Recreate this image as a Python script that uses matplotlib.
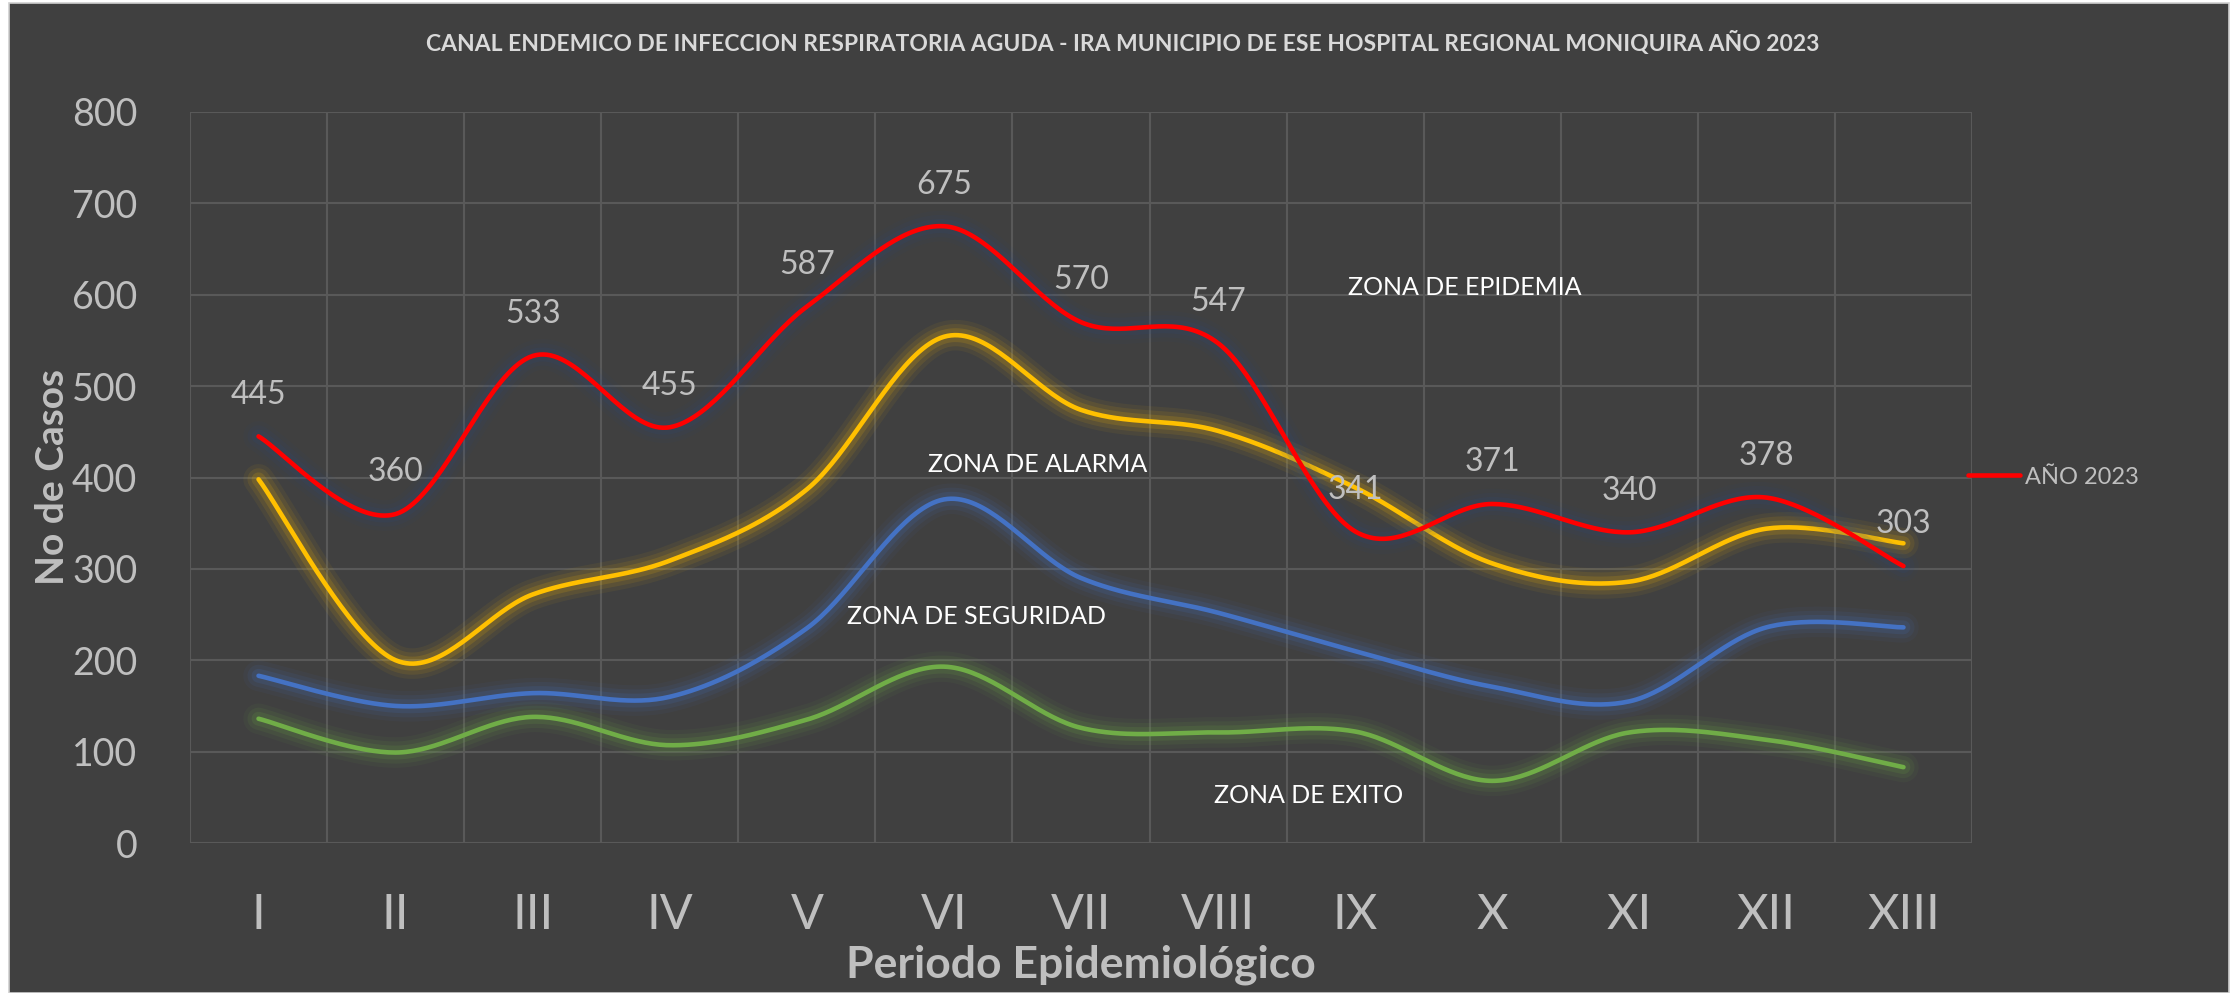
import numpy as np
import matplotlib
matplotlib.use("Agg")
import matplotlib.pyplot as plt
import matplotlib.patheffects as pe
from matplotlib.patches import Rectangle

# ---------------- data ----------------
periodos = ["I", "II", "III", "IV", "V", "VI", "VII", "VIII", "IX", "X", "XI", "XII", "XIII"]
exito = [136, 99, 138, 107, 135, 193, 126, 121, 122, 68, 121, 113, 83]
seguridad = [183, 150, 164, 160, 235, 376, 290, 252, 210, 171, 155, 236, 236]
alarma = [398, 200, 272, 309, 387, 554, 474, 451, 389, 306, 286, 344, 328]
anio_2023 = [445, 360, 533, 455, 587, 675, 570, 547, 341, 371, 340, 378, 303]

titulo = "CANAL ENDEMICO DE INFECCION RESPIRATORIA AGUDA - IRA MUNICIPIO DE ESE HOSPITAL REGIONAL MONIQUIRA AÑO 2023"
zonas = [("ZONA DE EPIDEMIA", 8.8, 608), ("ZONA DE ALARMA", 5.68, 414),
         ("ZONA DE SEGURIDAD", 5.24, 248), ("ZONA DE EXITO", 7.66, 52)]

FONT = ["Lato", "DejaVu Sans"]
BG = "#404040"
TXT = "#BFBFBF"


def smooth(xs, ys, n=40):
    """Excel-like smoothed line: Catmull-Rom cubic Bezier segments."""
    xs = np.asarray(xs, float)
    ys = np.asarray(ys, float)
    P = np.column_stack([xs, ys])
    Pp = np.vstack([P[0], P, P[-1]])
    out = []
    t = np.linspace(0, 1, n)[:, None]
    for i in range(len(P) - 1):
        p0, p1, p2, p3 = Pp[i], Pp[i + 1], Pp[i + 2], Pp[i + 3]
        c1 = p1 + (p2 - p0) / 6.0
        c2 = p2 - (p3 - p1) / 6.0
        seg = ((1 - t) ** 3) * p1 + 3 * ((1 - t) ** 2) * t * c1 + 3 * (1 - t) * t ** 2 * c2 + t ** 3 * p2
        out.append(seg if i == 0 else seg[1:])
    arr = np.vstack(out)
    return arr[:, 0], arr[:, 1]


W, H = 2234, 993
fig = plt.figure(figsize=(W / 100, H / 100), dpi=100, facecolor="white")
fig.patches.append(Rectangle((9 / W, 0), (2229 - 9) / W, (H - 3) / H, transform=fig.transFigure,
                             facecolor=BG, edgecolor="#CFCFCF", linewidth=1.2, zorder=-5))

ax = fig.add_axes([190 / W, 1 - 843 / H, (1972 - 190) / W, (843 - 112) / H], zorder=2)
ax.set_facecolor(BG)
for s in ax.spines.values():
    s.set_visible(False)

x = np.arange(len(periodos))
ax.set_xlim(-0.5, len(periodos) - 0.5)
ax.set_ylim(0, 800)
ax.set_yticks(np.arange(0, 801, 100))
ax.set_xticks(x)
ax.set_xticklabels(periodos)
ax.set_xticks(np.arange(-0.5, len(periodos)), minor=True)
ax.grid(False)
ax.grid(True, which="major", axis="y", color="#595959", linewidth=1.5)
ax.grid(True, which="minor", axis="x", color="#595959", linewidth=1.5)
ax.tick_params(axis="both", which="both", length=0)
ax.tick_params(axis="y", pad=38, labelsize=27, labelcolor=TXT)
ax.tick_params(axis="x", pad=36, labelsize=35, labelcolor=TXT)
for lab in ax.get_yticklabels():
    lab.set_family(FONT)
for lab in ax.get_xticklabels():
    lab.set_family(FONT)
    lab.set_fontweight("normal")
ax.set_axisbelow(True)

series = [
    (exito, "#70AD47", "#70AD47", None),
    (seguridad, "#4472C4", "#4472C4", None),
    (alarma, "#FFC000", "#FFC000", None),
    (anio_2023, "#FF0000", "#2B4A80", "AÑO 2023"),
]
for vals, col, glow, lab in series:
    sx, sy = smooth(x, vals)
    effects = [pe.Stroke(linewidth=22, foreground=glow, alpha=0.06),
               pe.Stroke(linewidth=16, foreground=glow, alpha=0.09),
               pe.Stroke(linewidth=10, foreground=glow, alpha=0.14),
               pe.Normal()]
    ax.plot(sx, sy, color=col, linewidth=3.3, solid_capstyle="round",
            path_effects=effects, label=lab, zorder=3)

for xi, v in zip(x, anio_2023):
    ax.annotate(str(v), (xi, v), xytext=(0, 30), textcoords="offset points",
                ha="center", va="center", fontsize=23, color=TXT, family=FONT, zorder=5)

for txt, zx, zy in zonas:
    ax.text(zx, zy, txt, ha="center", va="center", fontsize=18, color="white", family=FONT, zorder=5)

handles, labels = ax.get_legend_handles_labels()
leg = fig.legend(handles, labels, loc="center left", bbox_to_anchor=(1968 / W, 1 - 477 / H),
                 bbox_transform=fig.transFigure, frameon=False, borderpad=0, borderaxespad=0,
                 handlelength=2.2, handletextpad=0.2, prop={"family": FONT, "size": 17})
for t in leg.get_texts():
    t.set_color(TXT)
for h in leg.legend_handles:
    h.set_path_effects([])

fig.text(1123 / W, 1 - 43 / H, titulo, ha="center", va="center", fontsize=16.5,
         fontweight="bold", color="#D9D9D9", family=FONT)
fig.text(1081 / W, 1 - 965 / H, "Periodo Epidemiológico", ha="center", va="center",
         fontsize=32, fontweight="bold", color=TXT, family=FONT)
fig.text(53 / W, 1 - 477 / H, "No de Casos", ha="center", va="center", rotation=90,
         fontsize=28, fontweight="bold", color=TXT, family=FONT)

fig.savefig("out.png", dpi=100, facecolor=fig.get_facecolor())
